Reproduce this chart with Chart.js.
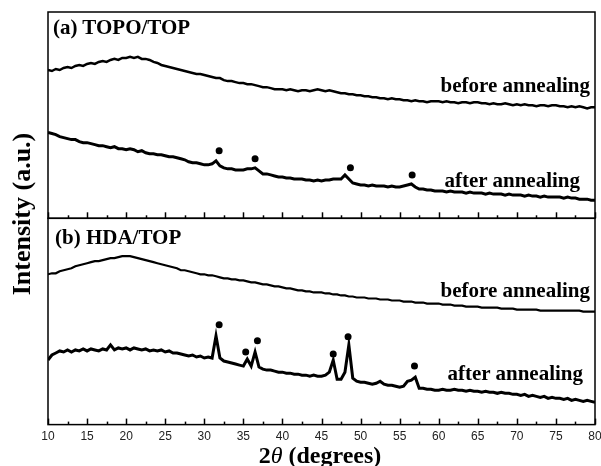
<!DOCTYPE html>
<html>
<head>
<meta charset="utf-8">
<script src="https://cdn.jsdelivr.net/npm/chart.js@4.4.1/dist/chart.umd.min.js"></script>
<style>
  html, body { margin: 0; padding: 0; background: #fff; }
  #wrap { position: relative; width: 601px; height: 466px; overflow: hidden; }
  #xrd { position: absolute; left: 0; top: 0; }
  .lbl { position: absolute; font: bold 21px "Liberation Serif", "Times New Roman", serif; line-height: 21px; white-space: nowrap; color: #000; }
  #ytitle { position: absolute; left: -128px; top: 200px; width: 300px; text-align: center; transform: rotate(-90deg);
            font: bold 26px "Liberation Serif", serif; line-height: 28px; color: #000; }
  #xtitle { position: absolute; left: 170px; width: 300px; top: 442px; text-align: center;
            font: bold 24px "Liberation Serif", serif; line-height: 26px; color: #000; }
</style>
</head>
<body>
<div id="wrap">
  <canvas id="xrd" width="601" height="466"></canvas>
  <div class="lbl" style="left:53px;top:17px">(a) TOPO/TOP</div>
  <div class="lbl" style="right:11px;top:75px">before annealing</div>
  <div class="lbl" style="right:21px;top:170px">after annealing</div>
  <div class="lbl" style="left:55px;top:227px">(b) HDA/TOP</div>
  <div class="lbl" style="right:11px;top:280px">before annealing</div>
  <div class="lbl" style="right:18px;top:363px">after annealing</div>
  <div id="ytitle">Intensity (a.u.)</div>
  <div id="xtitle">2<i style="font-weight:normal">θ</i> (degrees)</div>
</div>
<script>
// 2-theta grid (degrees)
const angles = [
  10, 10.5, 11, 11.5, 12, 12.5, 13, 13.5, 14, 14.5,
  15, 15.5, 16, 16.5, 17, 17.5, 18, 18.5, 19, 19.5,
  20, 20.5, 21, 21.5, 22, 22.5, 23, 23.5, 24, 24.5,
  25, 25.5, 26, 26.5, 27, 27.5, 28, 28.5, 29, 29.5,
  30, 30.5, 31, 31.5, 32, 32.5, 33, 33.5, 34, 34.5,
  35, 35.5, 36, 36.5, 37, 37.5, 38, 38.5, 39, 39.5,
  40, 40.5, 41, 41.5, 42, 42.5, 43, 43.5, 44, 44.5,
  45, 45.5, 46, 46.5, 47, 47.5, 48, 48.5, 49, 49.5,
  50, 50.5, 51, 51.5, 52, 52.5, 53, 53.5, 54, 54.5,
  55, 55.5, 56, 56.5, 57, 57.5, 58, 58.5, 59, 59.5,
  60, 60.5, 61, 61.5, 62, 62.5, 63, 63.5, 64, 64.5,
  65, 65.5, 66, 66.5, 67, 67.5, 68, 68.5, 69, 69.5,
  70, 70.5, 71, 71.5, 72, 72.5, 73, 73.5, 74, 74.5,
  75, 75.5, 76, 76.5, 77, 77.5, 78, 78.5, 79, 79.5,
  80
];

// (a) TOPO/TOP
const topoBefore = [
  147, 146, 148, 147, 149, 150, 149, 151, 152, 151,
  153, 154, 153, 155, 156, 155, 157, 158, 157, 159,
  159, 160, 159, 160, 158, 158, 157, 155, 154, 152,
  151, 150, 149, 148, 147, 146, 145, 144, 143, 143,
  142, 141, 140, 139, 139, 137, 136, 136, 135, 134,
  134, 133, 133, 132, 131, 130, 130, 129, 128, 128,
  128, 127, 128, 127, 126, 127, 127, 126, 127, 128,
  127, 126, 127, 126, 125, 124, 124, 123, 123, 122,
  122, 121, 121, 120, 120, 119, 119, 118, 119, 118,
  118, 117, 117, 116, 117, 116, 116, 115, 116, 116,
  116, 115, 116, 115, 115, 114, 115, 115, 114, 115,
  115, 114, 114, 113, 114, 113, 113, 114, 113, 112,
  113, 112, 113, 112, 112, 111, 112, 112, 111, 112,
  112, 111, 111, 110, 111, 110, 111, 110, 109, 110,
  110
];
const topoAfter = [
  85, 84, 83, 81, 80, 79, 78, 78, 76, 75,
  75, 74, 73, 72, 72, 71, 70, 71, 69, 69,
  68, 69, 68, 66, 67, 65, 64, 64, 63, 63,
  62, 61, 61, 60, 59, 58, 56, 55, 55, 54,
  53, 53, 54, 57, 52, 50, 49, 49, 48, 48,
  48, 49, 49, 50, 47, 44, 44, 43, 42, 41,
  41, 40, 40, 39, 39, 39, 38, 38, 37, 38,
  37, 38, 38, 39, 39, 39, 43, 39, 35, 34,
  33, 33, 32, 33, 32, 32, 32, 31, 32, 31,
  31, 32, 33, 34, 31, 29, 29, 28, 28, 27,
  27, 27, 26, 27, 26, 26, 26, 25, 26, 25,
  25, 25, 24, 25, 24, 24, 24, 23, 24, 23,
  23, 23, 22, 23, 22, 22, 21, 22, 21, 21,
  21, 21, 20, 21, 20, 20, 19, 19, 19, 18,
  18
];

// (b) HDA/TOP
const hdaBefore = [
  149, 150, 150, 152, 153, 154, 155, 157, 158, 159,
  160, 161, 162, 162, 163, 164, 165, 165, 166, 167,
  167, 167, 166, 165, 164, 163, 162, 161, 160, 159,
  158, 157, 156, 155, 153, 153, 152, 151, 150, 149,
  149, 148, 148, 147, 146, 145, 145, 144, 144, 143,
  143, 142, 141, 141, 140, 139, 139, 138, 137, 137,
  136, 135, 135, 134, 133, 133, 132, 132, 131, 131,
  131, 130, 130, 129, 129, 128, 128, 127, 127, 126,
  126, 126, 125, 125, 125, 124, 124, 124, 123, 123,
  123, 122, 122, 122, 121, 121, 121, 120, 120, 120,
  120, 119, 119, 119, 118, 118, 118, 117, 117, 117,
  117, 116, 116, 116, 116, 116, 115, 115, 115, 115,
  114, 114, 114, 114, 114, 114, 113, 113, 113, 113,
  113, 113, 113, 113, 113, 113, 113, 112, 112, 112,
  112
];
const hdaAfter = [
  64, 69, 71, 73, 72, 74, 72, 74, 73, 75,
  73, 75, 74, 73, 75, 74, 79, 74, 76, 75,
  76, 74, 76, 75, 74, 75, 73, 74, 73, 74,
  72, 73, 71, 71, 70, 69, 68, 69, 67, 68,
  66, 67, 66, 88, 66, 63, 62, 61, 60, 59,
  58, 65, 58, 72, 57, 55, 54, 54, 53, 52,
  52, 51, 51, 50, 50, 49, 49, 48, 49, 48,
  48, 49, 52, 64, 45, 45, 52, 79, 46, 43,
  42, 42, 41, 40, 41, 43, 40, 39, 39, 38,
  37, 38, 43, 44, 47, 36, 36, 35, 35, 34,
  34, 35, 34, 34, 35, 34, 34, 33, 34, 33,
  33, 32, 33, 32, 32, 31, 32, 31, 31, 30,
  30, 29, 30, 28, 29, 28, 27, 28, 26, 27,
  26, 26, 25, 26, 24, 25, 24, 23, 24, 23,
  22
];

// peak markers
const topoPeakX = [31.9, 36.5, 48.7, 56.6];
const topoPeakY = [67, 59, 50, 43];
const hdaPeakX = [31.9, 35.3, 36.8, 46.5, 48.4, 56.9];
const hdaPeakY = [99, 72, 83, 70, 87, 58];

const xy = (xs, ys) => xs.map((x, i) => ({ x: x, y: ys[i] }));

function lineSet(ys, axis, w) {
  return {
    type: 'line', data: xy(angles, ys), yAxisID: axis,
    borderColor: '#000', borderWidth: w, pointRadius: 0, tension: 0
  };
}
function dotSet(xs, ys, axis) {
  return {
    type: 'scatter', data: xy(xs, ys), yAxisID: axis,
    pointRadius: 3.5, pointBackgroundColor: '#000', pointBorderWidth: 0, showLine: false
  };
}

// frame around each panel plus inward x ticks
const framePlugin = {
  id: 'frame',
  afterDatasetsDraw(chart) {
    const c = chart.ctx, x = chart.scales.x, area = chart.chartArea;
    c.save();
    c.strokeStyle = '#000';
    c.lineWidth = 1.5;
    [chart.scales.ya, chart.scales.yb].forEach(s => {
      c.strokeRect(area.left, s.top, area.right - area.left, s.bottom - s.top);
      x.ticks.forEach(t => {
        const px = Math.round(x.getPixelForValue(t.value)) + 0.5;
        const len = t.value % 5 === 0 ? 6 : 3;
        c.beginPath();
        c.moveTo(px, s.bottom);
        c.lineTo(px, s.bottom - len);
        c.stroke();
      });
    });
    c.restore();
  }
};

new Chart(document.getElementById('xrd').getContext('2d'), {
  data: {
    datasets: [
      lineSet(topoBefore, 'ya', 2.5),
      lineSet(topoAfter, 'ya', 3),
      dotSet(topoPeakX, topoPeakY, 'ya'),
      lineSet(hdaBefore, 'yb', 2.2),
      lineSet(hdaAfter, 'yb', 3),
      dotSet(hdaPeakX, hdaPeakY, 'yb')
    ]
  },
  options: {
    responsive: false,
    animation: false,
    devicePixelRatio: 1,
    layout: { padding: { left: 48, right: 6, top: 12, bottom: 17 } },
    plugins: { legend: { display: false }, tooltip: { enabled: false } },
    scales: {
      x: {
        type: 'linear', min: 10, max: 80,
        grid: { display: false, drawTicks: false },
        border: { display: false },
        afterFit: s => { s.paddingLeft = 0; s.paddingRight = 0; },
        ticks: {
          stepSize: 2.5, autoSkip: false, maxRotation: 0, padding: 5,
          color: '#222', font: { family: 'Liberation Sans, Arial, sans-serif', size: 12 },
          callback: v => (v % 5 === 0 ? v : '')
        }
      },
      yb: { type: 'linear', display: false, min: 0, max: 204.5, stack: 'panels', stackWeight: 1 },
      ya: { type: 'linear', display: false, min: 0, max: 204.5, stack: 'panels', stackWeight: 1 }
    }
  },
  plugins: [framePlugin]
});
</script>
</body>
</html>
